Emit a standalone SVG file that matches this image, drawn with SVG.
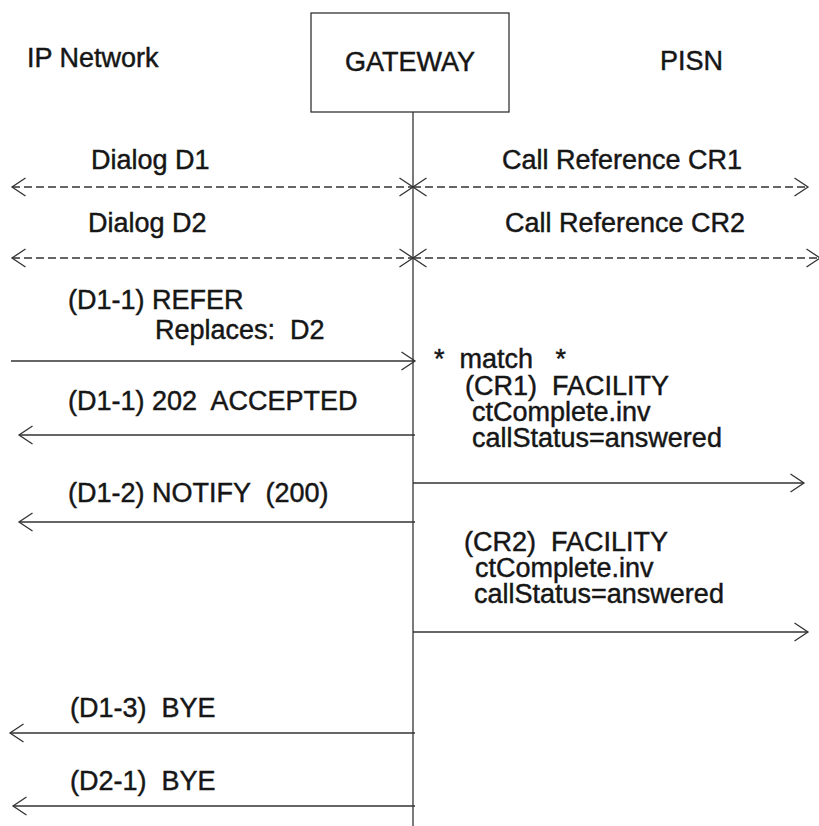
<svg xmlns="http://www.w3.org/2000/svg" width="819" height="826" viewBox="0 0 819 826">
<style>
text{font-family:"Liberation Sans",Arial,sans-serif;font-size:27px;fill:#161616;stroke:#161616;stroke-width:0.45;white-space:pre}
.ln{stroke:#333;stroke-width:1.3;fill:none}
.msg{marker-end:url(#ah)}
.dash{stroke-dasharray:8 4;marker-start:url(#ahs);marker-end:url(#ah)}
</style>
<defs>
<marker id="ah" viewBox="0 0 14 18" refX="13.5" refY="9" markerWidth="14" markerHeight="18" markerUnits="userSpaceOnUse" orient="auto" overflow="visible">
<path d="M0,0 L13.5,9 L0,18" fill="none" stroke="#333" stroke-width="1.3"/>
</marker>
<marker id="ahs" viewBox="0 0 14 18" refX="13.5" refY="9" markerWidth="14" markerHeight="18" markerUnits="userSpaceOnUse" orient="auto-start-reverse" overflow="visible">
<path d="M0,0 L13.5,9 L0,18" fill="none" stroke="#333" stroke-width="1.3"/>
</marker>
</defs>
<rect width="819" height="826" fill="#fff"/>

<g id="ip-network"><text x="27" y="67">IP Network</text></g>
<g id="gateway">
<rect x="311" y="13" width="198" height="99" fill="#fff" stroke="#333" stroke-width="1.3"/>
<text x="410" y="71" text-anchor="middle">GATEWAY</text>
</g>
<g id="pisn"><text x="660" y="70">PISN</text></g>

<g id="connectors">
<line class="ln" x1="413" y1="112" x2="413" y2="826"/>
<line class="ln dash" x1="12" y1="187" x2="413" y2="187"/>
<line class="ln dash" x1="413" y1="187" x2="808" y2="187"/>
<line class="ln dash" x1="12" y1="258" x2="413" y2="258"/>
<line class="ln dash" x1="413" y1="258" x2="820" y2="258"/>
<line class="ln msg" x1="11" y1="361" x2="415" y2="361"/>
<line class="ln msg" x1="415" y1="435" x2="19" y2="435"/>
<line class="ln msg" x1="413" y1="483" x2="804" y2="483"/>
<line class="ln msg" x1="415" y1="522" x2="19" y2="522"/>
<line class="ln msg" x1="413" y1="632" x2="808" y2="632"/>
<line class="ln msg" x1="415" y1="733" x2="10" y2="733"/>
<line class="ln msg" x1="415" y1="806" x2="13" y2="806"/>
</g>

<g id="labels">
<text x="91" y="169">Dialog D1</text>
<text x="502" y="169">Call Reference CR1</text>
<text x="88" y="232">Dialog D2</text>
<text x="505" y="232">Call Reference CR2</text>
<text x="68" y="309">(D1-1) REFER</text>
<text x="155" y="339">Replaces:  D2</text>
<text x="434" y="368">*  match   *</text>
<text x="465" y="395">(CR1)  FACILITY</text>
<text x="472" y="421">ctComplete.inv</text>
<text x="472" y="447">callStatus=answered</text>
<text x="68" y="410">(D1-1) 202  ACCEPTED</text>
<text x="68" y="502">(D1-2) NOTIFY  (200)</text>
<text x="464" y="551">(CR2)  FACILITY</text>
<text x="475" y="577">ctComplete.inv</text>
<text x="474" y="603">callStatus=answered</text>
<text x="70" y="717">(D1-3)  BYE</text>
<text x="70" y="790">(D2-1)  BYE</text>
</g>
</svg>
